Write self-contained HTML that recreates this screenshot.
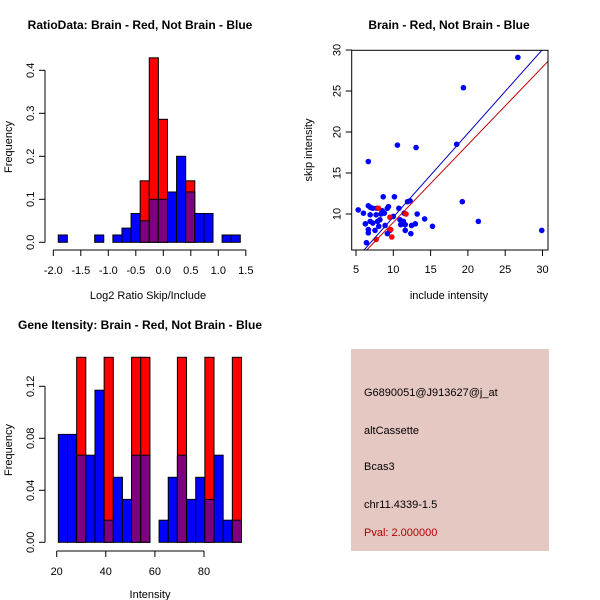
<!DOCTYPE html>
<html><head><meta charset="utf-8"><style>
body{margin:0;background:#fff}
svg{display:block;font-family:"Liberation Sans",sans-serif}
text{fill:#000}
</style></head><body>
<svg id="s" width="600" height="600" xmlns="http://www.w3.org/2000/svg">
<rect width="600" height="600" fill="#fff"/>
<text x="140" y="29" font-size="12" font-weight="bold" text-anchor="middle">RatioData: Brain - Red, Not Brain - Blue</text>
<text x="148" y="299" font-size="11" text-anchor="middle">Log2 Ratio Skip/Include</text>
<text transform="translate(12,147) rotate(-90)" font-size="11" text-anchor="middle">Frequency</text>
<text x="449" y="29" font-size="12" font-weight="bold" text-anchor="middle">Brain - Red, Not Brain - Blue</text>
<text x="449" y="299" font-size="11" text-anchor="middle">include intensity</text>
<text transform="translate(312,150) rotate(-90)" font-size="11" text-anchor="middle">skip intensity</text>
<text x="140" y="329" font-size="12" font-weight="bold" text-anchor="middle">Gene Itensity: Brain - Red, Not Brain - Blue</text>
<text x="150" y="598" font-size="11" text-anchor="middle">Intensity</text>
<text transform="translate(12,450) rotate(-90)" font-size="11" text-anchor="middle">Frequency</text>
<g>
<rect x="351" y="349" width="198" height="202" fill="#E6C8C3"/>
<text x="364" y="396" font-size="11">G6890051@J913627@j_at</text>
<text x="364" y="434" font-size="11">altCassette</text>
<text x="364" y="470" font-size="11">Bcas3</text>
<text x="364" y="508" font-size="11">chr11.4339-1.5</text>
<text x="364" y="536" font-size="11" style="fill:#B00000">Pval: 2.000000</text>
</g>
</svg>
<script>
// Ratio histogram data
const ratioStart = -1.91, ratioWidth = 0.1655;
const ratioBlue = [0.017,0,0,0,0.017,0,0.017,0.033,0.067,0.05,0.1,0.1,0.117,0.2,0.117,0.067,0.067,0,0.017,0.017];
const ratioRed  = [0,0,0,0,0,0,0,0,0,0.143,0.429,0.286,0,0,0.143,0,0,0,0,0];
const ratioXTicks = [-2.0,-1.5,-1.0,-0.5,0.0,0.5,1.0,1.5];
const ratioYTicks = [0.0,0.1,0.2,0.3,0.4];
// Intensity histogram data
const intStart = 20.67, intWidth = 3.73;
const intBlue = [0.083,0.083,0.067,0.067,0.117,0.017,0.05,0.033,0.067,0.067,0,0.017,0.05,0.067,0.033,0.05,0.033,0.067,0.017,0.017];
const intRed  = [0,0,0.143,0,0,0.143,0,0,0.143,0.143,0,0,0,0.143,0,0,0.143,0,0,0.143];
const intXTicks = [20,40,60,80];
const intYTicks = ["0.00","0.04","0.08","0.12"];
// Scatter data
const blueX = [5.3,6.0,6.25,6.4,6.65,6.65,6.9,6.65,6.65,6.95,6.9,7.25,7.25,7.55,7.7,7.8,7.9,8.05,8.2,8.35,8.5,8.65,8.8,8.9,9.2,9.35,9.2,9.55,10.0,10.15,10.55,10.75,10.9,11.0,11.35,11.45,11.6,11.6,11.9,12.25,12.35,12.45,13.05,12.95,13.2,14.2,15.25,18.5,19.25,19.4,21.4,26.7,29.9];
const blueY = [10.5,10.1,8.8,6.5,16.4,11.0,9.1,8.1,7.7,10.8,9.9,10.7,8.9,8.0,9.9,10.7,9.1,8.5,9.3,10.0,10.4,12.1,10.1,8.6,10.7,10.9,7.6,8.0,9.7,12.1,18.4,10.7,9.3,8.7,9.1,10.1,8.7,8.0,11.5,11.6,7.6,8.6,18.1,8.8,10.0,9.4,8.5,18.5,11.5,25.4,9.1,29.1,8.0];
const redX = [8.0,7.7,9.55,9.8,9.65,11.7];
const redY = [10.7,6.9,9.6,7.2,8.1,10.0];
const scatterXTicks = [5,10,15,20,25,30];
const scatterYTicks = [10,15,20,25,30];
const blueLine = [1.022,-0.6]; // slope, intercept
const redLine = [0.947,-0.49];

const NS="http://www.w3.org/2000/svg", svg=document.getElementById('s');
function mk(tag,attrs,parent){const e=document.createElementNS(NS,tag);for(const k in attrs)e.setAttribute(k,attrs[k]);(parent||svg).appendChild(e);return e;}

function hist(name,blue,red,start,width,sx,sy,top,xt,yt,xAxisY,yAxisX,xFmt){
  const g=mk('g',{});
  
  
  for(let i=0;i<blue.length;i++){
    const x0=sx(start+i*width), x1=sx(start+(i+1)*width);
    const b=blue[i], r=red[i], mx=Math.max(b,r), mn=Math.min(b,r);
    if(mx<=0) continue;
    const col = r>b ? '#FF0000' : '#0000FF';
    const y1=Math.max(sy(mx),top);
    const bar=mk('rect',{x:x0,y:y1,width:x1-x0,height:sy(0)-y1,fill:col,stroke:'#000','stroke-width':1},g);
    
    
    if(mn>0){
      const y2=sy(mn);
      const ov=mk('rect',{x:x0,y:y2,width:x1-x0,height:sy(0)-y2,fill:'#7F007F',stroke:'#000','stroke-width':1},g);
      
      
    }
  }
  const xa=mk('g',{stroke:'#000'},g);
  
  
  mk('line',{x1:sx(xt[0]),x2:sx(xt[xt.length-1]),y1:xAxisY,y2:xAxisY},xa);
  xt.forEach(v=>{mk('line',{x1:sx(v),x2:sx(v),y1:xAxisY,y2:xAxisY+6},xa);
    const t=mk('text',{x:sx(v),y:xAxisY+24,'font-size':11,'text-anchor':'middle',stroke:'none'},g);t.textContent=xFmt(v);});
  const ya=mk('g',{stroke:'#000'},g);
  
  
  mk('line',{x1:yAxisX,x2:yAxisX,y1:sy(+yt[0]),y2:sy(+yt[yt.length-1])},ya);
  yt.forEach(v=>{const y=sy(+v);mk('line',{x1:yAxisX-6,x2:yAxisX,y1:y,y2:y},ya);
    const t=mk('text',{transform:`translate(${yAxisX-11},${y}) rotate(-90)`,'font-size':11,'text-anchor':'middle',stroke:'none'},g);t.textContent=v;});
}
hist('ratio-histogram',ratioBlue,ratioRed,ratioStart,ratioWidth,
  v=>53.3+(v+2)*55.0, v=>242.3-v*430, 0,
  ratioXTicks, ratioYTicks.map(v=>v.toFixed(1)), 250, 45, v=>v.toFixed(1));
hist('intensity-histogram',intBlue,intRed,intStart,intWidth,
  v=>56.7+(v-20)*2.455, v=>542.3-v*1300, 357.3,
  intXTicks, intYTicks, 551, 45, v=>String(v));

const sg=mk('g',{});


const px=v=>356+(v-5)*7.46, py=v=>214-(v-10)*8.2;
const L=351.7,R=548,T=50.3,B=250;
const cp=mk('clipPath',{id:'cp'},sg);mk('rect',{x:L,y:T,width:R-L,height:B-T},cp);
blueX.forEach((x,i)=>{const c=mk('circle',{cx:px(x),cy:py(blueY[i]),r:2.8,fill:'#0000FF'},sg);
  
  });
redX.forEach((x,i)=>{const c=mk('circle',{cx:px(x),cy:py(redY[i]),r:2.8,fill:'#FF0000'},sg);
  
  });
[[blueLine,'#0000C0','blue-fit-line'],[redLine,'#C00000','red-fit-line']].forEach(([ln,col,nm])=>{
  const l=mk('line',{x1:px(0),y1:py(ln[1]),x2:px(40),y2:py(ln[0]*40+ln[1]),stroke:col,'stroke-width':1,'clip-path':'url(#cp)'},sg);
  
  });
mk('rect',{x:L,y:T,width:R-L,height:B-T,fill:'none',stroke:'#000'},sg);
scatterXTicks.forEach(v=>{mk('line',{x1:px(v),x2:px(v),y1:B,y2:B+6,stroke:'#000'},sg);
  const t=mk('text',{x:px(v),y:B+23,'font-size':11,'text-anchor':'middle'},sg);t.textContent=v;});
scatterYTicks.forEach(v=>{mk('line',{x1:L-6,x2:L,y1:py(v),y2:py(v),stroke:'#000'},sg);
  const t=mk('text',{transform:`translate(${L-11},${py(v)}) rotate(-90)`,'font-size':11,'text-anchor':'middle'},sg);t.textContent=v;});
</script>
</body></html>
